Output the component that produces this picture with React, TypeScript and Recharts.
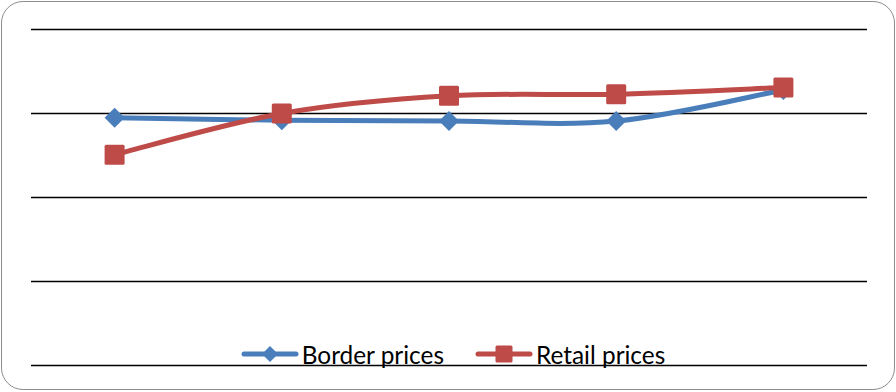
import React from 'react';
import { LineChart, Line, XAxis, YAxis, CartesianGrid } from 'recharts';

const periods = ['Period 1', 'Period 2', 'Period 3', 'Period 4', 'Period 5'];
const borderPrices = [2.95, 2.92, 2.91, 2.91, 3.28];
const retailPrices = [2.51, 3.0, 3.21, 3.23, 3.31];
const yTicks = [0, 1, 2, 3, 4];

const BLUE = '#4A7EBB';
const RED = '#BE4B48';

const data = periods.map((p, i) => ({
  period: p,
  border: borderPrices[i],
  retail: retailPrices[i],
}));

// Excel-like smoothed line (bezier with control points at 1/6 of neighbour spread)
const smoothCurve = (context: any) => {
  let pts: number[][] = [];
  return {
    areaStart() {},
    areaEnd() {},
    lineStart() {
      pts = [];
    },
    point(x: number, y: number) {
      pts.push([+x, +y]);
    },
    lineEnd() {
      const n = pts.length;
      if (!n) return;
      context.moveTo(pts[0][0], pts[0][1]);
      for (let i = 0; i < n - 1; i++) {
        const p0 = pts[Math.max(i - 1, 0)];
        const p1 = pts[i];
        const p2 = pts[i + 1];
        const p3 = pts[Math.min(i + 2, n - 1)];
        context.bezierCurveTo(
          p1[0] + (p2[0] - p0[0]) / 6,
          p1[1] + (p2[1] - p0[1]) / 6,
          p2[0] - (p3[0] - p1[0]) / 6,
          p2[1] - (p3[1] - p1[1]) / 6,
          p2[0],
          p2[1]
        );
      }
    },
  };
};

const Diamond = ({ cx, cy, r = 10, fill }: any) => (
  <polygon
    points={`${cx},${cy - r} ${cx + r},${cy} ${cx},${cy + r} ${cx - r},${cy}`}
    fill={fill}
  />
);

const Square = ({ cx, cy, r = 10, fill }: any) => (
  <rect x={cx - r} y={cy - r} width={r * 2} height={r * 2} rx={1.5} fill={fill} />
);

const series = [
  { key: 'border', name: 'Border prices', color: BLUE, Marker: Diamond },
  { key: 'retail', name: 'Retail prices', color: RED, Marker: Square },
];

export default function App() {
  return (
    <div style={{ position: 'fixed', left: 0, top: 0, width: 896, height: 392, background: '#fff' }}>
      <div
        style={{
          position: 'absolute',
          left: 1,
          top: 1,
          width: 894,
          height: 389,
          border: '1.5px solid #8c8c8c',
          borderRadius: 22,
          boxSizing: 'border-box',
          pointerEvents: 'none',
        }}
      />
      <LineChart
        width={896}
        height={392}
        data={data}
        margin={{ top: 29.5, right: 29, left: 31, bottom: 26.5 }}
      >
        <CartesianGrid vertical={false} stroke="#000" strokeWidth={1.5} />
        <XAxis dataKey="period" hide padding={{ left: 83.6, right: 83.6 }} />
        <YAxis domain={[0, 4]} ticks={yTicks} hide />
        {series.map((s) => (
          <Line
            key={s.key}
            dataKey={s.key}
            name={s.name}
            type={smoothCurve as any}
            stroke={s.color}
            strokeWidth={5}
            isAnimationActive={false}
            dot={(props: any) => <s.Marker key={props.index} cx={props.cx} cy={props.cy} r={10} fill={s.color} />}
            activeDot={false}
          />
        ))}
      </LineChart>
      <div
        style={{
          position: 'absolute',
          left: 5,
          width: 896,
          top: 339,
          height: 30,
          display: 'flex',
          justifyContent: 'center',
          alignItems: 'center',
          gap: 31,
          fontFamily: 'Lato, sans-serif',
          fontSize: 24.4,
          color: '#000',
        }}
      >
        {series.map((s) => (
          <div key={s.key} style={{ display: 'flex', alignItems: 'center' }}>
            <svg width={58} height={24} style={{ marginRight: 3 }}>
              <line x1={3} y1={12} x2={55} y2={12} stroke={s.color} strokeWidth={5} strokeLinecap="round" />
              <s.Marker cx={29} cy={12} r={s.key === 'border' ? 8 : 8.5} fill={s.color} />
            </svg>
            <span>{s.name}</span>
          </div>
        ))}
      </div>
    </div>
  );
}
